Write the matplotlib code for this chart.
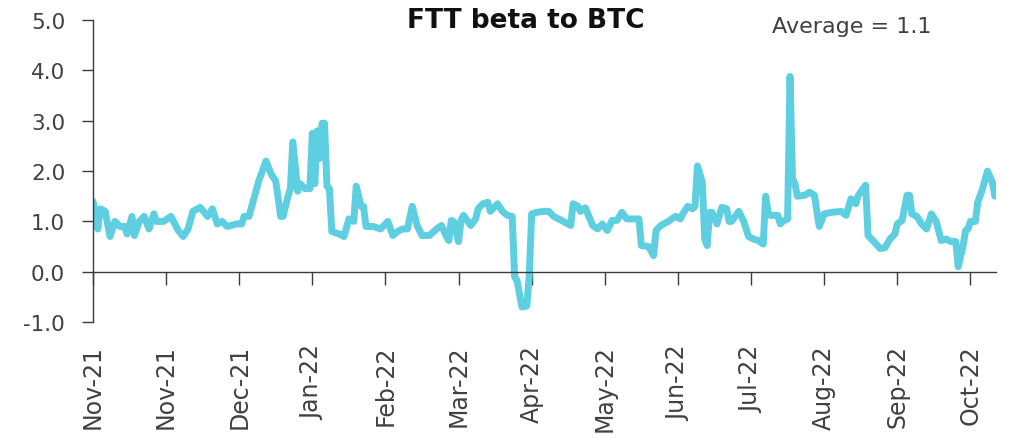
import numpy as np
import matplotlib.pyplot as plt

# ------------------------------------------------------------
# Data: trading-day index and beta value
# ------------------------------------------------------------
day = [0, 2, 3, 5, 7, 9, 11, 13, 14, 16, 17, 19, 21, 23, 25, 26, 29, 32, 35, 37,
       39, 41, 44, 47, 49, 51, 53, 55, 59, 61, 62, 64, 66, 68, 71, 73, 75, 77, 78, 80,
       81, 82, 84, 85, 87, 89, 90, 91, 92, 93, 94, 95, 96, 97, 98, 101, 103, 105, 107, 108,
       110, 111, 112, 115, 118, 121, 123, 125, 127, 129, 131, 133, 135, 138, 141, 143, 145, 146, 147, 148,
       150, 151, 152, 155, 157, 158, 160, 162, 163, 166, 168, 170, 172, 173, 174, 176, 178, 179, 180, 182,
       185, 187, 189, 193, 196, 197, 199, 200, 202, 205, 207, 209, 211, 213, 215, 217, 219, 224, 225, 228,
       230, 231, 233, 236, 239, 241, 242, 244, 246, 247, 248, 250, 251, 252, 253, 254, 256, 258, 260, 261,
       262, 265, 267, 269, 271, 273, 275, 276, 277, 278, 281, 282, 283, 285, 286, 287, 288, 289, 292, 294,
       296, 297, 298, 300, 303, 307, 309, 311, 313, 314, 317, 318, 320, 323, 325, 327, 329, 330, 332, 334,
       335, 336, 338, 340, 342, 344, 346, 348, 350, 352, 354, 355, 357, 358, 359, 360, 362, 363, 365, 367,
       369, 370]
beta = [1.40, 0.85, 1.25, 1.20, 0.70, 1.00, 0.90, 0.90, 0.75, 1.10, 0.72, 1.00, 1.10, 0.85, 1.15, 1.00, 1.00, 1.10, 0.82, 0.70,
        0.85, 1.20, 1.28, 1.10, 1.25, 0.95, 1.00, 0.90, 0.95, 0.95, 1.10, 1.10, 1.45, 1.80, 2.20, 1.95, 1.80, 1.10, 1.10, 1.50,
        1.65, 2.58, 1.60, 1.75, 1.65, 1.65, 2.75, 1.75, 2.80, 2.25, 2.95, 2.95, 1.70, 1.65, 0.80, 0.75, 0.70, 1.05, 1.00, 1.70,
        1.30, 1.30, 0.90, 0.90, 0.85, 1.00, 0.72, 0.80, 0.85, 0.85, 1.30, 0.92, 0.72, 0.72, 0.85, 0.92, 0.70, 0.62, 1.02, 1.00,
        0.60, 1.02, 1.12, 0.92, 1.05, 1.25, 1.35, 1.38, 1.20, 1.35, 1.20, 1.12, 1.10, -0.10, -0.18, -0.70, -0.68, -0.08, 1.15, 1.18,
        1.20, 1.20, 1.10, 1.00, 0.92, 1.35, 1.30, 1.20, 1.27, 0.92, 0.85, 0.95, 0.82, 1.02, 1.02, 1.18, 1.05, 1.05, 0.52, 0.50,
        0.32, 0.82, 0.92, 1.00, 1.10, 1.05, 1.15, 1.30, 1.25, 1.30, 2.10, 1.78, 0.65, 0.52, 1.18, 1.18, 0.95, 1.28, 1.25, 1.00,
        1.00, 1.20, 1.00, 0.70, 0.65, 0.62, 0.55, 1.50, 1.18, 1.12, 1.12, 0.95, 1.00, 1.05, 3.88, 1.85, 1.75, 1.50, 1.52, 1.58,
        1.52, 1.20, 0.90, 1.15, 1.18, 1.20, 1.12, 1.45, 1.35, 1.52, 1.72, 0.72, 0.62, 0.46, 0.48, 0.65, 0.75, 0.95, 1.02, 1.52,
        1.52, 1.15, 1.10, 0.95, 0.85, 1.15, 1.00, 0.62, 0.65, 0.60, 0.60, 0.10, 0.52, 0.82, 0.85, 1.00, 1.00, 1.38, 1.65, 2.00,
        1.78, 1.50]

tick_labels = ["Nov-21", "Nov-21", "Dec-21", "Jan-22", "Feb-22", "Mar-22", "Apr-22",
               "May-22", "Jun-22", "Jul-22", "Aug-22", "Sep-22", "Oct-22"]
tick_step = 30
y_ticks = [-1, 0, 1, 2, 3, 4, 5]
average_text = "Average = 1.1"

LINE = "#5DCFE0"
AXIS = "#3a3a3a"
TEXT = "#404040"

plt.rcParams.update({
    "font.family": ["DejaVu Sans"],
    "axes.linewidth": 1.0,
})

fig = plt.figure(figsize=(10.25, 4.39), dpi=100)
ax = fig.add_axes([0.0907, 0.264, 0.881, 0.688])

ax.plot(day, beta, color=LINE, lw=5, solid_joinstyle="round", solid_capstyle="round")

ax.set_xlim(0, 370.5)
ax.set_ylim(-1, 5)
ax.set_yticks(y_ticks)
ax.set_yticklabels([f"{v:.1f}" for v in y_ticks])

for side in ["top", "right"]:
    ax.spines[side].set_visible(False)
ax.spines["left"].set_color(AXIS)
ax.spines["bottom"].set_color(AXIS)
ax.spines["bottom"].set_position(("data", 0))

xt = list(range(0, len(tick_labels) * tick_step, tick_step))
ax.set_xticks(xt)
ax.tick_params(axis="x", direction="out", length=9, width=1.0, color=AXIS, labelbottom=False)
ax.tick_params(axis="y", direction="out", length=8, width=1.0, color=AXIS,
               labelsize=15.5, labelcolor=TEXT, pad=12)

# month labels sit below the plot area, not on the zero line
sec = ax.secondary_xaxis("bottom")
sec.set_xticks(xt)
sec.set_xticklabels(tick_labels, rotation=90, fontsize=17, color=TEXT)
sec.tick_params(length=0, pad=16)
sec.spines["bottom"].set_visible(False)

fig.text(0.513, 0.982, "FTT beta to BTC", ha="center", va="top",
         fontsize=19, fontweight="bold", color="#111111")
fig.text(0.831, 0.938, average_text, ha="center", va="center",
         fontsize=16, color=TEXT)

fig.savefig("out.png", dpi=100)
